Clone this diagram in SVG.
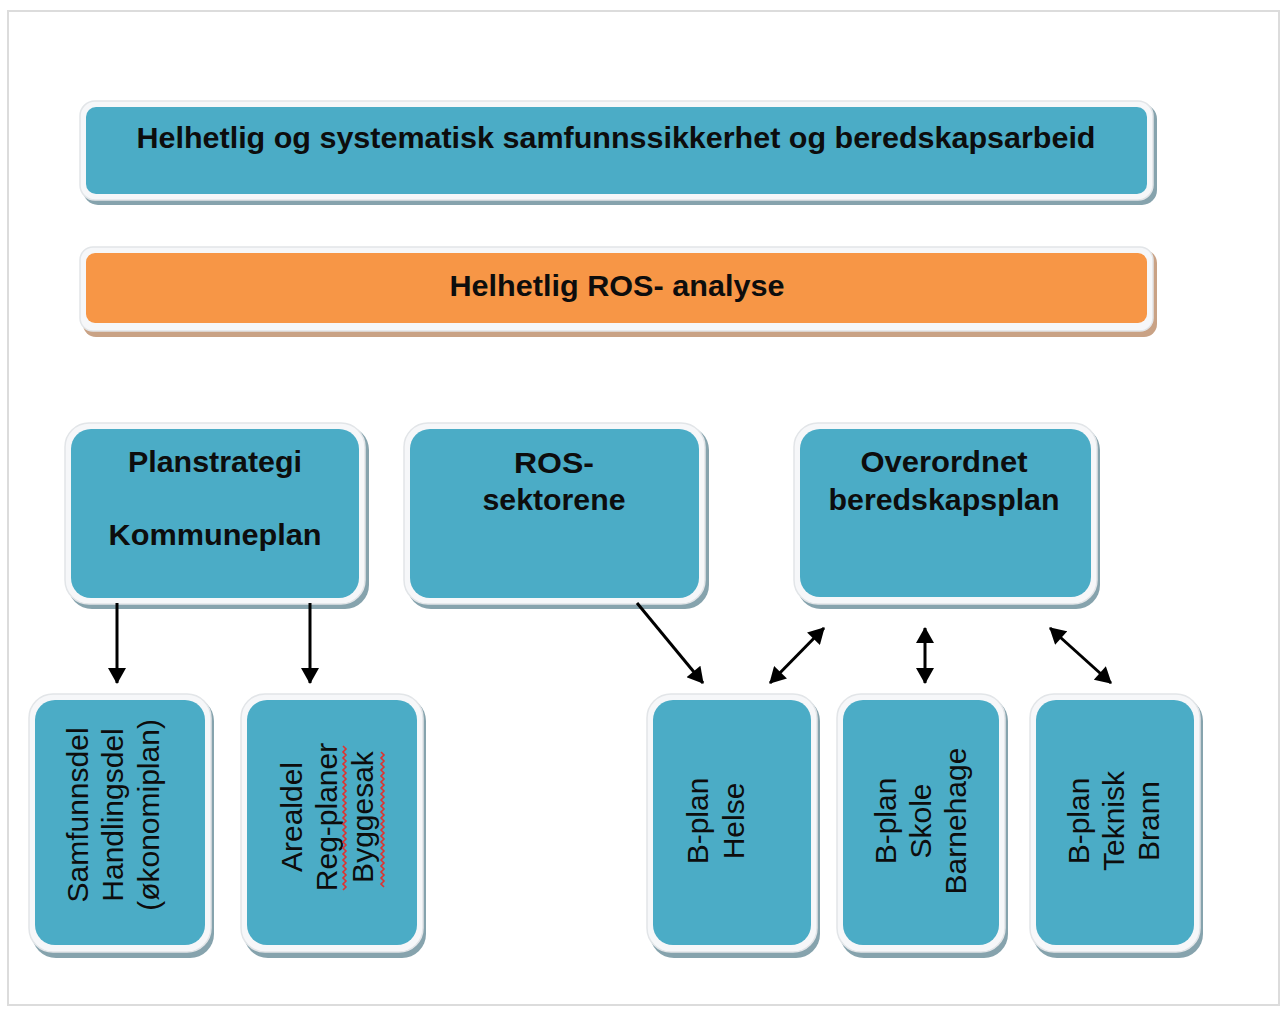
<svg xmlns="http://www.w3.org/2000/svg" width="1287" height="1009" viewBox="0 0 1287 1009">
<defs>
<style>
.frame{fill:#ffffff;stroke:#dcdcdc;stroke-width:2}
.sh-b{fill:#86a3ad}
.sh-o{fill:#c9a285}
.rim{fill:#f6f7f9;stroke:#e2e5e8;stroke-width:1.5}
.blue{fill:#4bacc6}
.orange{fill:#f79646}
.hd{font-family:"Liberation Sans",Arial,sans-serif;font-weight:bold;font-size:30px;fill:#0d0d0d;text-anchor:middle}
.vt{font-family:"Liberation Sans",Arial,sans-serif;font-size:30px;fill:#0d0d0d;text-anchor:middle}
.con{stroke:#000;stroke-width:3;fill:none}
.sq{stroke:#e0312f;stroke-width:1.6;fill:none}
</style>
<marker id="ah" markerUnits="userSpaceOnUse" markerWidth="18" markerHeight="18" viewBox="0 0 16 18" refX="15" refY="9" orient="auto-start-reverse">
<path d="M0,0 L16,9 L0,18 z" fill="#000"/>
</marker>
</defs>
<rect class="frame" x="8" y="11" width="1271" height="994"/>

<g id="node-top">
<rect class="sh-b" x="83" y="104" width="1074" height="101" rx="15"/>
<rect class="rim" x="80" y="101" width="1073" height="99" rx="15"/>
<rect class="blue" x="86" y="107" width="1061" height="87" rx="10"/>
<text class="hd" x="616" y="148" font-size="28" textLength="959" lengthAdjust="spacingAndGlyphs">Helhetlig og systematisk samfunnssikkerhet og beredskapsarbeid</text>
</g>

<g id="node-ros-analyse">
<rect class="sh-o" x="83" y="250" width="1074" height="87" rx="13"/>
<rect class="rim" x="80" y="247" width="1073" height="84" rx="13"/>
<rect class="orange" x="86" y="253" width="1061" height="70" rx="9"/>
<text class="hd" x="617" y="296" font-size="28" textLength="335" lengthAdjust="spacingAndGlyphs">Helhetlig ROS- analyse</text>
</g>

<g id="node-planstrategi">
<rect class="sh-b" x="68" y="426" width="301" height="183" rx="24"/>
<rect class="rim" x="65" y="423" width="300" height="181" rx="24"/>
<rect class="blue" x="71" y="429" width="288" height="169" rx="20"/>
<text class="hd" x="215" y="472" textLength="174" lengthAdjust="spacingAndGlyphs">Planstrategi</text>
<text class="hd" x="215" y="545" textLength="213" lengthAdjust="spacingAndGlyphs">Kommuneplan</text>
</g>

<g id="node-ros-sektorene">
<rect class="sh-b" x="407" y="426" width="302" height="183" rx="24"/>
<rect class="rim" x="404" y="423" width="301" height="181" rx="24"/>
<rect class="blue" x="410" y="429" width="289" height="169" rx="20"/>
<text class="hd" x="554" y="473" textLength="80" lengthAdjust="spacingAndGlyphs">ROS-</text>
<text class="hd" x="554" y="510" textLength="143" lengthAdjust="spacingAndGlyphs">sektorene</text>
</g>

<g id="node-overordnet">
<rect class="sh-b" x="797" y="426" width="303" height="183" rx="24"/>
<rect class="rim" x="794" y="423" width="303" height="181" rx="24"/>
<rect class="blue" x="800" y="429" width="291" height="168" rx="20"/>
<text class="hd" x="944" y="472" textLength="167" lengthAdjust="spacingAndGlyphs">Overordnet</text>
<text class="hd" x="944" y="510" textLength="231" lengthAdjust="spacingAndGlyphs">beredskapsplan</text>
</g>

<g id="node-samfunnsdel">
<rect class="sh-b" x="32" y="697" width="182" height="261" rx="24"/>
<rect class="rim" x="29" y="694" width="182" height="258" rx="24"/>
<rect class="blue" x="35" y="700" width="170" height="245" rx="20"/>
<text class="vt" transform="translate(88,815) rotate(-90)">Samfunnsdel</text>
<text class="vt" transform="translate(123,815) rotate(-90)">Handlingsdel</text>
<text class="vt" transform="translate(159,815) rotate(-90)">(økonomiplan)</text>
</g>

<g id="node-arealdel">
<rect class="sh-b" x="244" y="697" width="182" height="261" rx="24"/>
<rect class="rim" x="241" y="694" width="182" height="258" rx="24"/>
<rect class="blue" x="247" y="700" width="170" height="245" rx="20"/>
<text class="vt" transform="translate(302,817) rotate(-90)">Arealdel</text>
<text class="vt" transform="translate(337,817) rotate(-90)">Reg-planer</text>
<text class="vt" transform="translate(373,817) rotate(-90)">Byggesak</text>
<path class="sq" d="M343,746 l3,3 l-3,3 l3,3 l-3,3 l3,3 l-3,3 l3,3 l-3,3 l3,3 l-3,3 l3,3 l-3,3 l3,3 l-3,3 l3,3 l-3,3 l3,3 l-3,3 l3,3 l-3,3 l3,3 l-3,3 l3,3 l-3,3 l3,3 l-3,3 l3,3 l-3,3 l3,3 l-3,3 l3,3 l-3,3 l3,3 l-3,3 l3,3 l-3,3 l3,3 l-3,3 l3,3 l-3,3 l3,3 l-3,3 l3,3 l-3,3 l3,3 l-3,3 l3,3 l-3,3"/>
<path class="sq" d="M381,752 l3,3 l-3,3 l3,3 l-3,3 l3,3 l-3,3 l3,3 l-3,3 l3,3 l-3,3 l3,3 l-3,3 l3,3 l-3,3 l3,3 l-3,3 l3,3 l-3,3 l3,3 l-3,3 l3,3 l-3,3 l3,3 l-3,3 l3,3 l-3,3 l3,3 l-3,3 l3,3 l-3,3 l3,3 l-3,3 l3,3 l-3,3 l3,3 l-3,3 l3,3 l-3,3 l3,3 l-3,3 l3,3 l-3,3 l3,3 l-3,3 l3,3"/>
</g>

<g id="node-helse">
<rect class="sh-b" x="650" y="697" width="170" height="261" rx="24"/>
<rect class="rim" x="647" y="694" width="170" height="258" rx="24"/>
<rect class="blue" x="653" y="700" width="158" height="245" rx="20"/>
<text class="vt" transform="translate(708,821) rotate(-90)">B-plan</text>
<text class="vt" transform="translate(744,821) rotate(-90)">Helse</text>
</g>

<g id="node-skole">
<rect class="sh-b" x="840" y="697" width="168" height="261" rx="24"/>
<rect class="rim" x="837" y="694" width="168" height="258" rx="24"/>
<rect class="blue" x="843" y="700" width="156" height="245" rx="20"/>
<text class="vt" transform="translate(896,821) rotate(-90)">B-plan</text>
<text class="vt" transform="translate(931,821) rotate(-90)">Skole</text>
<text class="vt" transform="translate(966,821) rotate(-90)">Barnehage</text>
</g>

<g id="node-teknisk">
<rect class="sh-b" x="1033" y="697" width="170" height="261" rx="24"/>
<rect class="rim" x="1030" y="694" width="170" height="258" rx="24"/>
<rect class="blue" x="1036" y="700" width="158" height="245" rx="20"/>
<text class="vt" transform="translate(1089,821) rotate(-90)">B-plan</text>
<text class="vt" transform="translate(1124,821) rotate(-90)">Teknisk</text>
<text class="vt" transform="translate(1159,821) rotate(-90)">Brann</text>
</g>

<g id="connectors">
<line class="con" x1="117" y1="603" x2="117" y2="683" marker-end="url(#ah)"/>
<line class="con" x1="310" y1="603" x2="310" y2="683" marker-end="url(#ah)"/>
<line class="con" x1="637" y1="603" x2="703" y2="683" marker-end="url(#ah)"/>
<line class="con" x1="770" y1="683" x2="824" y2="628" marker-start="url(#ah)" marker-end="url(#ah)"/>
<line class="con" x1="925" y1="628" x2="925" y2="683" marker-start="url(#ah)" marker-end="url(#ah)"/>
<line class="con" x1="1050" y1="628" x2="1111" y2="683" marker-start="url(#ah)" marker-end="url(#ah)"/>
</g>
</svg>
